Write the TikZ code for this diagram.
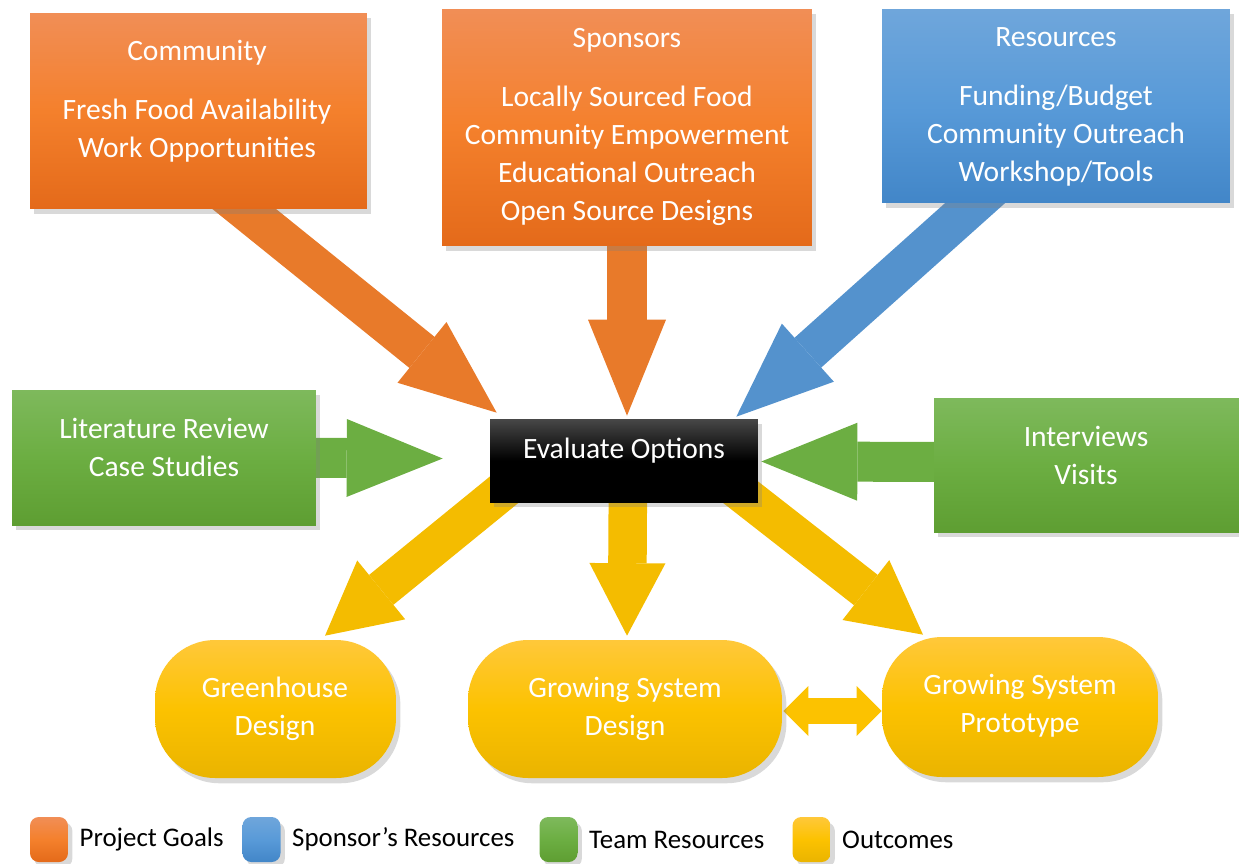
\documentclass[tikz,border=0pt]{standalone}
\usepackage{fontspec}
\setmainfont{Carlito}
\usepackage{tikz}
\usetikzlibrary{calc}
\usetikzlibrary{shadows}
\usetikzlibrary{positioning}
\usetikzlibrary{backgrounds}
\usetikzlibrary{arrows.meta}
\definecolor{goaltop}{RGB}{241, 142, 86}
\definecolor{goalmid}{RGB}{244, 128, 44}
\definecolor{goalbot}{RGB}{228, 106, 26}
\definecolor{sponstop}{RGB}{111, 166, 219}
\definecolor{sponsmid}{RGB}{88, 154, 216}
\definecolor{sponsbot}{RGB}{66, 134, 200}
\definecolor{teamtop}{RGB}{126, 185, 92}
\definecolor{teammid}{RGB}{108, 174, 66}
\definecolor{teambot}{RGB}{94, 158, 50}
\definecolor{outtop}{RGB}{255, 200, 58}
\definecolor{outmid}{RGB}{252, 194, 0}
\definecolor{outbot}{RGB}{234, 180, 0}
\tikzset{
  box/.style={rectangle, inner sep=0pt, drop shadow={opacity=0.3, shadow xshift=2.5pt, shadow yshift=-3pt}},
  goalbox/.style={box, top color=goaltop, bottom color=goalbot, middle color=goalmid},
  sponsbox/.style={box, top color=sponstop, bottom color=sponsbot, middle color=sponsmid},
  teambox/.style={box, top color=teamtop, bottom color=teambot, middle color=teammid},
  evalbox/.style={box, top color=black!72, bottom color=black, middle color=black},
  outbox/.style={box, top color=outtop, bottom color=outbot, middle color=outmid, rounded corners=1.2cm, minimum height=2.76cm},
  boxtext/.style={text=white, align=center, inner sep=0pt, font=\fontsize{16.8}{21.6}\selectfont},
  keybox/.style={minimum width=0.76cm, minimum height=0.9cm, rounded corners=5pt},
  keytext/.style={inner sep=0pt, text=black, font=\fontsize{15.3}{17}\selectfont},
  bigarrow/.style={line width=0.8cm, -{Triangle[length=1.92cm, width=1.56cm, line width=0pt]}},
  goalarrow/.style={bigarrow, draw=goalmid!95!black},
  sponsarrow/.style={bigarrow, draw=sponsmid!95!black},
  teamarrow/.style={bigarrow, draw=teammid},
  outarrow/.style={line width=0.77cm, draw=outmid!97!black, -{Triangle[length=1.45cm, width=1.52cm, line width=0pt]}},
  linkarrow/.style={line width=0.52cm, draw=outmid,
    {Triangle[length=0.5cm, width=1cm, line width=0pt]}-{Triangle[length=0.5cm, width=1cm, line width=0pt]}}
}
\begin{document}
\begin{tikzpicture}[x=0.02cm, y=-0.02cm]
  \useasboundingbox (0,0) rectangle (1239,863);

  % boxes
  \node[goalbox, minimum width=6.74cm, minimum height=3.92cm] (comm)  at (198.5,111)   {};
  \node[goalbox, minimum width=7.40cm, minimum height=4.74cm] (spons) at (627,127.5)   {};
  \node[sponsbox, minimum width=6.96cm, minimum height=3.88cm] (res)  at (1056,106)    {};
  \node[teambox, minimum width=6.08cm, minimum height=2.70cm] (lit)   at (164,457.5)   {};
  \node[teambox, minimum width=6.10cm, minimum height=2.68cm] (inter) at (1086.5,465)  {};
  \node[evalbox, minimum width=5.36cm, minimum height=1.66cm] (eval)  at (624,460.5)   {};
  \node[outbox, minimum width=4.82cm]                         (green) at (275.5,709)   {};
  \node[outbox, minimum width=6.28cm]                         (gsd)   at (625,709)     {};
  \node[outbox, minimum width=5.52cm, minimum height=2.80cm]  (proto) at (1020,707)    {};

  % texts
  \node[boxtext] (commtxt)  at (197,101)  {Community\\[12pt]Fresh Food Availability\\Work Opportunities};
  \node[boxtext] (sponstxt) at (627,127)  {Sponsors\\[12pt]Locally Sourced Food\\Community Empowerment\\Educational Outreach\\Open Source Designs};
  \node[boxtext] (restxt)   at (1056,107) {Resources\\[12pt]Funding/Budget\\Community Outreach\\Workshop/Tools};
  \node[boxtext] (littxt)   at (164,447)  {Literature Review\\Case Studies};
  \node[boxtext] (intertxt) at (1086,455) {Interviews\\Visits};
  \node[boxtext] (evaltxt)  at (624,451)  {Evaluate Options};
  \node[boxtext] (greentxt) at (275,709)  {Greenhouse\\Design};
  \node[boxtext] (gsdtxt)   at (625,709)  {Growing System\\Design};
  \node[boxtext] (prototxt) at (1020,706) {Growing System\\Prototype};

  % arrows
  \begin{pgfonlayer}{background}
    \draw[goalarrow]  ($(comm.south)+(-27,-59)$)  -- ($(eval.north west)+(7,-6)$);
    \draw[goalarrow]  ($(spons.south)+(0,-40)$)   -- ($(eval.north)+(3,-3)$);
    \draw[sponsarrow] ($(res.south)+(-22,-53)$)   -- ($(eval.north east)+(-22,-2)$);
    \draw[teamarrow]  ($(lit.east)+(-60,0)$)      -- ($(eval.west)+(-47,-2)$);
    \draw[teamarrow]  ($(inter.west)+(60,-3)$)    -- ($(eval.east)+(3,1)$);
    \draw[outarrow]   ($(eval.center)+(-84,0)$)   -- ($(green.north)+(49.5,-4)$);
    \draw[outarrow]   ($(eval.center)+(4,10)$)    -- ($(gsd.north)+(2,-4)$);
    \draw[outarrow]   ($(eval.center)+(76,0)$)    -- ($(proto.north)+(-97,-2)$);
    \draw[linkarrow]  ($(gsd.east)+(1,2)$)        -- ($(proto.west)+(0,4)$);
  \end{pgfonlayer}

  % legend
  \node[keybox, goalbox]  (keygoal)  at (49,839.5)    {};
  \node[keytext, right=0.22cm of keygoal]  (keygoaltxt)  {Project Goals};
  \node[keybox, sponsbox] (keyspons) at (261.5,839.5) {};
  \node[keytext, right=0.22cm of keyspons] (keysponstxt) {Sponsor’s Resources};
  \node[keybox, teambox]  (keyteam)  at (558.5,839.5) {};
  \node[keytext, right=0.22cm of keyteam]  (keyteamtxt)  {Team Resources};
  \node[keybox, outbox, minimum height=0.9cm, rounded corners=5pt] (keyout) at (811.5,839.5) {};
  \node[keytext, right=0.22cm of keyout]   (keyouttxt)   {Outcomes};
\end{tikzpicture}
\end{document}
